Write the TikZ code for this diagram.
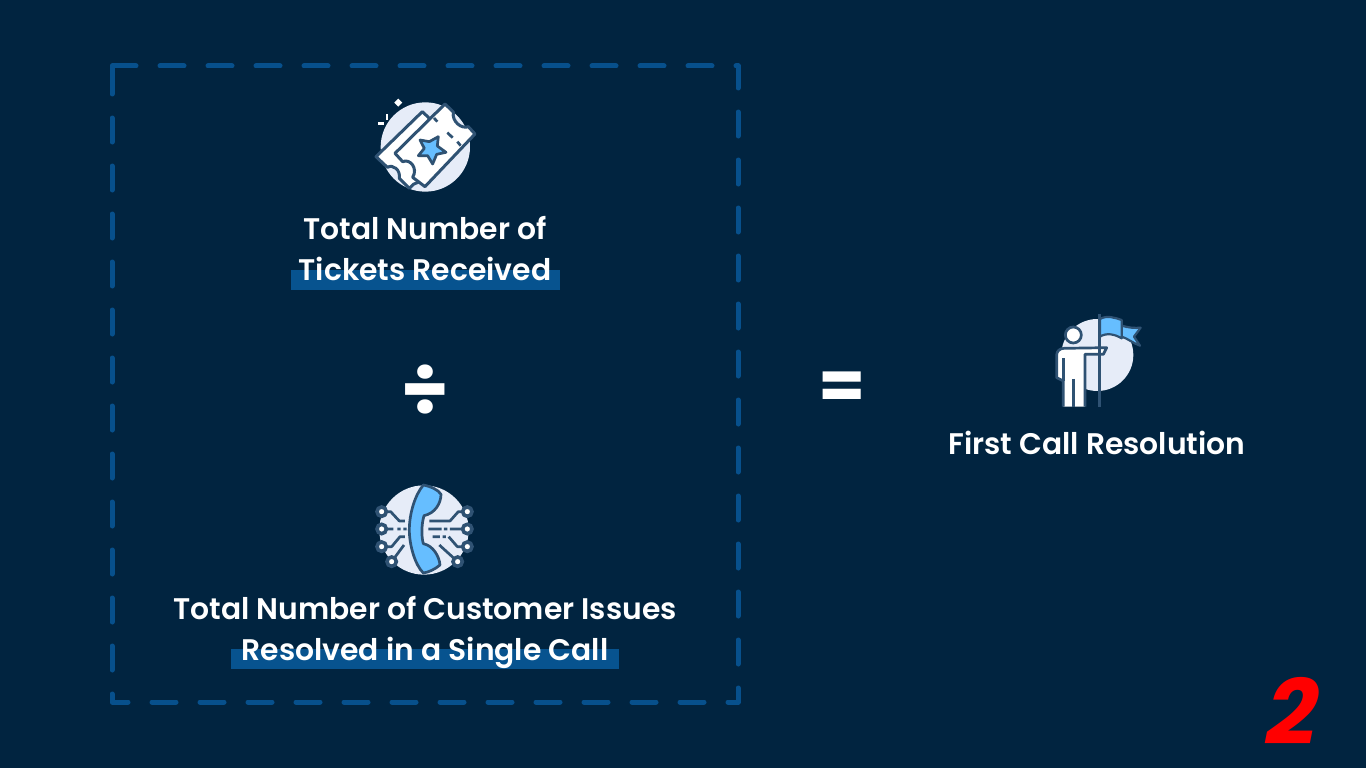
\documentclass[tikz,border=0pt]{standalone}
\usepackage{fontspec}
\setmainfont{Poppins}[BoldFont={Poppins SemiBold}]
\newfontfamily\twofont{Poppins}[BoldFont={Poppins Bold},BoldFeatures={FakeSlant=0.2}]
\newfontfamily\symfont{Poppins}[BoldFont={Poppins Bold}]
\definecolor{bgc}{HTML}{012440}
\definecolor{dashc}{HTML}{07508C}
\definecolor{barc}{HTML}{07538F}
\definecolor{disc}{HTML}{E6ECF8}
\definecolor{linec}{HTML}{2F5273}
\definecolor{bluec}{HTML}{66BEFF}
\tikzset{
 dashline/.style={draw=dashc,line width=5pt,line cap=round,line join=round},
 title/.style={font=\bfseries\fontsize{29.8}{29.8}\selectfont,text=white,anchor=base,inner sep=0pt},
 bar/.style={fill=barc,draw=none},
 icon/.style={draw=linec,line width=2.7pt,line join=round,line cap=butt},
 sym/.style={text=white,inner sep=0pt}
}
\begin{document}
\begin{tikzpicture}[x=1pt,y=-1pt]
\useasboundingbox (0,0) rectangle (1366,768);
\fill[bgc] (0,0) rectangle (1366,768);
% dashed frame
\foreach \a in {160,208,...,688} \draw[dashline] (\a,66) -- (\a+24,66);
\draw[dashline] (736,66) -- (738,66) -- (738,88);
\foreach \a in {112,160,...,640} \draw[dashline] (738,\a) -- (738,\a+24);
\draw[dashline] (738,688) -- (738,702) -- (728,702);
\foreach \a in {152,200,...,680} \draw[dashline] (\a,702) -- (\a+24,702);
\draw[dashline] (128,702) -- (112,702) -- (112,694);
\foreach \a in {118,166,...,646} \draw[dashline] (112,\a) -- (112,\a+24);
\draw[dashline] (136,66) -- (112,66) -- (112,94);
% highlights
\fill[bar] (291,270) rectangle (560,290);
\fill[bar] (231,649) rectangle (619,669);
% texts
\node[title] (t1) at (425,239) {Total Number of};
\node[title] (t2) at (425,280) {Tickets Received};
\node[title] (t3) at (425,619) {Total Number of Customer Issues};
\node[title] (t4) at (425,660) {Resolved in a Single Call};
\node[title] (t5) at (1097,454) {First Call Resolution};
\node[sym,font=\symfont\bfseries\fontsize{77}{77}\selectfont] (div) at (425,391) {÷};
\node[sym,font=\symfont\bfseries\fontsize{68}{68}\selectfont] (eq) at (842,390.5) {=};
\node[inner sep=0pt,text=red,font=\twofont\bfseries\fontsize{90}{90}\selectfont] (two) at (1287,711) {2};
% ticket icon
\begin{scope}[shift={(360,90)},x=.3333pt,y=-.3333pt]
\fill[disc] (196,171) circle (134);
\filldraw[icon,line width=3pt,fill=white] (48,200) -- (187,65) -- (205,82) -- (230,120) -- (190,270) -- (160,283) -- (148,295) -- (118,265)
   .. controls (122,240) and (100,222) .. (82,232) -- cycle;
\filldraw[icon,line width=3pt,fill=white] (105,190) -- (255,42) -- (280,66) .. controls (275,95) and (305,118) .. (325,110) -- (345,132) -- (195,290) -- (158,262)
   .. controls (175,235) and (150,205) .. (128,215) -- cycle;
\draw[icon] (222,84) -- (232,95) (262,128) -- (278,143) (292,155) -- (302,167);
\filldraw[icon,fill=bluec] (180,150) -- (208,155) -- (235,140) -- (232,168) -- (258,187) -- (230,193) -- (218,222) -- (203,197) -- (175,197) -- (193,175) -- cycle;
\draw[white,line width=2.5pt] (54,100) -- (72,100) (81,72) -- (81,90);
\fill[white] (115,26) -- (121,32) -- (115,38) -- (109,32) -- cycle
 (115,38) -- (121,44) -- (115,50) -- (109,44) -- cycle
 (103,38) -- (109,32) -- (115,38) -- (109,44) -- cycle
 (127,38) -- (121,32) -- (115,38) -- (121,44) -- cycle;
\end{scope}
% phone icon
\begin{scope}[shift={(360,475)},x=.3333pt,y=-.3333pt]
\fill[disc] (192,165) circle (134);
\draw[icon] (65,110) -- (92,110) -- (118,138) -- (135,138)
 (65,162) -- (100,162) (112,162) -- (122,162) (130,162) -- (140,162)
 (65,215) -- (95,215) -- (120,185) -- (135,185)
 (95,260) -- (132,210);
\draw[icon] (322,110) -- (295,110) -- (270,138) -- (208,138)
 (205,162) -- (245,162) (252,162) -- (262,162) (270,162) -- (322,162)
 (218,185) -- (240,185) (248,185) -- (258,185) (266,185) -- (292,215) -- (322,215)
 (238,210) -- (293,260);
\filldraw[icon,fill=bluec] (190,30) .. controls (215,35) and (235,45) .. (243,58)
  .. controls (243,85) and (225,115) .. (192,122)
  .. controls (184,150) and (184,185) .. (190,206)
  .. controls (220,212) and (238,245) .. (240,270)
  .. controls (225,283) and (205,292) .. (190,294)
  .. controls (165,270) and (148,210) .. (148,165)
  .. controls (148,115) and (165,60) .. (190,30) -- cycle;
\foreach \p in {(65,110),(65,162),(65,215),(95,260),(322,110),(322,162),(322,215),(293,260)}
  \filldraw[draw=linec,line width=3.6pt,fill=white] \p circle (14);
\end{scope}
% flag icon
\begin{scope}[shift={(1040,305)},x=.3333pt,y=-.3333pt]
\fill[disc] (172,150) circle (108);
\filldraw[icon,line width=2.2pt,fill=bluec] (245,62) .. controls (265,68) and (285,70) .. (302,68) -- (282,95) -- (300,122)
  .. controls (280,115) and (262,100) .. (245,95) -- cycle;
\filldraw[icon,line width=2.2pt,fill=bluec] (180,42) .. controls (200,30) and (225,38) .. (245,45) -- (245,100)
  .. controls (225,88) and (200,82) .. (180,95) -- cycle;
\filldraw[icon,fill=white] (100,90) circle (24);
\filldraw[icon,fill=white] (70,305) -- (70,228) -- (50,218) -- (50,150) .. controls (50,138) and (60,130) .. (72,130) -- (200,128) -- (190,148) -- (135,148) -- (135,305);
\draw[icon] (70,160) -- (70,228) (100,222) -- (100,305);
\draw[icon] (178,28) -- (178,305);
\end{scope}
\end{tikzpicture}
\end{document}
